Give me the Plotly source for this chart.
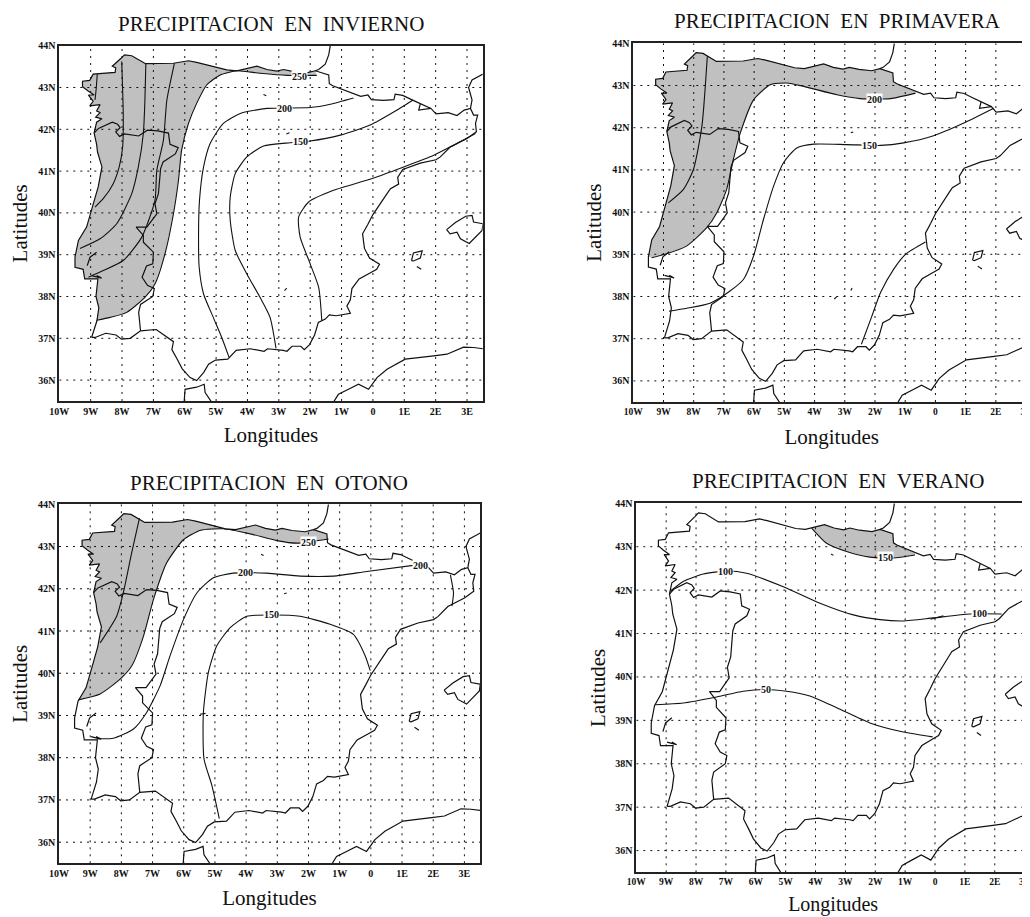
import plotly.graph_objects as go

OX, OY = 8, 8  # page body margin
FW, FH = 1022, 916

LON_TICKS = [-10, -9, -8, -7, -6, -5, -4, -3, -2, -1, 0, 1, 2, 3]
LON_LABELS = ["10W", "9W", "8W", "7W", "6W", "5W", "4W", "3W", "2W", "1W", "0", "1E", "2E", "3E"]
LAT_TICKS = [36, 37, 38, 39, 40, 41, 42, 43, 44]
LAT_LABELS = ["36N", "37N", "38N", "39N", "40N", "41N", "42N", "43N", "44N"]

ATLANTIC = [(-8.97, 37.02), (-8.80, 37.42), (-8.74, 37.73), (-8.83, 38.00), (-8.77, 38.42), (-9.19, 38.42),
            (-9.24, 38.65), (-9.50, 38.70), (-9.50, 38.94), (-9.39, 39.34), (-9.13, 39.66), (-8.97, 40.06),
            (-8.76, 40.62), (-8.64, 41.10), (-8.78, 41.45), (-8.81, 41.64), (-8.89, 41.91), (-8.81, 42.17),
            (-8.64, 42.25), (-8.84, 42.29), (-8.70, 42.40), (-8.81, 42.44), (-8.70, 42.59), (-9.03, 42.56),
            (-8.92, 42.67), (-9.07, 42.82), (-8.89, 42.82), (-9.09, 42.92), (-9.26, 43.02)]
NORTH_COAST = [(-9.26, 43.15), (-9.03, 43.17), (-8.92, 43.32), (-8.22, 43.36), (-8.20, 43.47), (-8.31, 43.51),
               (-8.03, 43.70), (-7.92, 43.78), (-7.69, 43.76), (-7.36, 43.63), (-7.25, 43.57), (-6.36, 43.58),
               (-5.88, 43.64), (-5.62, 43.60), (-5.09, 43.51), (-4.66, 43.42), (-4.34, 43.40), (-4.02, 43.46),
               (-3.70, 43.51), (-3.38, 43.43), (-3.06, 43.39), (-2.85, 43.43), (-2.53, 43.38), (-2.11, 43.35),
               (-1.84, 43.40)]
PYRENEES = [(-1.41, 43.30), (-1.39, 43.09), (-1.28, 43.04), (-0.67, 42.86), (-0.39, 42.79), (-0.16, 42.82),
            (-0.05, 42.71), (0.34, 42.69), (0.67, 42.71), (0.71, 42.84), (0.95, 42.81), (1.23, 42.71),
            (1.51, 42.61), (1.85, 42.50), (2.01, 42.37), (2.40, 42.40), (2.68, 42.33), (2.91, 42.46),
            (3.11, 42.50), (3.21, 42.34), (3.34, 42.34), (3.27, 42.14), (3.30, 41.94)]
EAST_SOUTH = [(3.00, 41.78), (2.47, 41.58), (2.15, 41.34), (2.01, 41.27), (1.51, 41.19), (0.95, 41.04), (0.79, 40.85),
              (0.82, 40.69), (0.56, 40.58), (0.45, 40.46), (0.17, 40.15), (0.00, 39.96), (-0.16, 39.73), (-0.33, 39.50),
              (-0.27, 39.15), (-0.11, 38.92), (0.21, 38.77), (0.12, 38.65), (-0.05, 38.58), (-0.44, 38.42), (-0.67, 38.19),
              (-0.72, 37.92), (-0.83, 37.77), (-0.72, 37.60), (-1.17, 37.54), (-1.39, 37.56), (-1.52, 37.46), (-1.74, 37.38),
              (-1.86, 37.08), (-2.02, 36.85), (-2.19, 36.73), (-2.30, 36.81), (-2.58, 36.81), (-2.74, 36.69), (-2.86, 36.71),
              (-3.36, 36.75), (-3.47, 36.69), (-3.91, 36.75), (-4.36, 36.71), (-4.63, 36.50), (-5.02, 36.48), (-5.24, 36.38),
              (-5.40, 36.18), (-5.62, 35.99), (-5.83, 36.06), (-6.08, 36.27), (-6.24, 36.50), (-6.41, 36.73), (-6.36, 36.92),
              (-6.58, 37.04), (-6.91, 37.21), (-7.41, 37.18), (-7.74, 37.00), (-8.02, 36.98), (-8.19, 37.08), (-8.52, 37.12),
              (-8.86, 37.02), (-8.97, 37.02)]
PORTUGAL_BORDER = [(-8.89, 41.91), (-8.75, 42.02), (-8.31, 42.17), (-8.14, 42.12), (-8.06, 42.04), (-8.20, 41.94),
                   (-8.08, 41.83), (-7.92, 41.89), (-7.47, 41.84), (-7.19, 41.98), (-6.86, 41.96), (-6.52, 41.91),
                   (-6.47, 41.64), (-6.21, 41.56), (-6.30, 41.41), (-6.69, 41.22), (-6.77, 41.06), (-6.84, 40.46),
                   (-6.95, 40.22), (-6.89, 39.98), (-7.21, 39.66), (-7.55, 39.66), (-7.32, 39.46), (-7.32, 39.30),
                   (-7.00, 39.06), (-7.02, 38.78), (-7.22, 38.73), (-7.36, 38.46), (-7.19, 38.27), (-6.97, 38.19),
                   (-7.02, 38.00), (-7.41, 37.81), (-7.47, 37.62), (-7.41, 37.18)]
ANDORRA = [(1.51, 42.61), (1.46, 42.46), (1.85, 42.50)]
FRANCE_ATL = [(-1.36, 44.0), (-1.41, 43.78), (-1.52, 43.56), (-1.73, 43.43), (-1.84, 43.40)]
FRANCE_MED = [(3.51, 43.32), (3.16, 43.18), (3.05, 43.00), (3.16, 42.70), (3.11, 42.50)]
TAGUS = [(-9.11, 38.74), (-9.02, 38.94), (-8.81, 39.06)]
SADO = [(-8.97, 38.50), (-8.65, 38.44), (-8.81, 38.50)]
TANGIER = [(-6.02, 35.47), (-5.99, 35.78), (-5.62, 35.83), (-5.38, 35.90), (-5.35, 35.70), (-5.14, 35.47)]
ALGERIA = [(-1.26, 35.47), (-1.10, 35.66), (-0.78, 35.78), (-0.46, 35.90), (-0.14, 35.78), (0.13, 36.06),
           (0.45, 36.26), (1.03, 36.50), (1.94, 36.58), (2.36, 36.62), (2.89, 36.79), (3.21, 36.78), (3.51, 36.75)]
MALLORCA = [(2.35, 39.60), (2.63, 39.77), (2.96, 39.92), (3.16, 39.94), (3.21, 39.78), (3.51, 39.74), (3.48, 39.58),
            (3.07, 39.27), (2.79, 39.38), (2.68, 39.54), (2.46, 39.50), (2.35, 39.60)]
IBIZA = [(1.23, 38.86), (1.29, 39.04), (1.57, 39.09), (1.51, 38.92), (1.29, 38.85), (1.23, 38.86)]
FORMENTERA = [(1.40, 38.72), (1.54, 38.65)]

# Invierno
INV_250 = [(-8.81, 37.43), (-8.38, 37.50), (-7.85, 37.62), (-7.27, 37.98), (-6.95, 38.30), (-6.63, 39.02),
           (-6.36, 39.98), (-6.20, 40.78), (-6.10, 41.50), (-5.88, 42.14), (-5.62, 42.62), (-5.30, 43.06),
           (-4.87, 43.30), (-4.34, 43.40), (-3.60, 43.34), (-2.74, 43.29), (-1.79, 43.29)]
INV_A = [(-8.79, 43.32), (-8.82, 43.00), (-8.86, 42.70)]
INV_B = [(-8.01, 43.62), (-7.96, 42.30), (-7.98, 41.58), (-8.09, 41.10), (-8.28, 40.70), (-8.60, 40.34), (-8.86, 40.14)]
INV_C = [(-7.24, 43.58), (-7.27, 42.70), (-7.32, 41.90), (-7.48, 41.10), (-7.69, 40.46), (-8.17, 39.74), (-8.70, 39.38), (-9.34, 39.15)]
INV_D = [(-6.33, 43.58), (-6.57, 42.70), (-6.68, 41.74), (-6.89, 41.02), (-6.95, 40.30), (-7.37, 39.42), (-7.96, 38.86), (-8.60, 38.62), (-9.07, 38.46)]
INV_200 = [(-0.62, 42.75), (-1.36, 42.60), (-2.00, 42.52), (-3.38, 42.50), (-4.23, 42.38), (-4.77, 42.14), (-5.19, 41.66),
           (-5.40, 41.10), (-5.53, 40.30), (-5.56, 39.50), (-5.54, 38.70), (-5.40, 38.06), (-5.09, 37.50), (-4.82, 37.02), (-4.59, 36.55)]
INV_150 = [(1.28, 42.70), (0.77, 42.46), (-0.09, 42.10), (-1.04, 41.86), (-2.00, 41.72), (-2.64, 41.68), (-3.49, 41.60),
           (-4.02, 41.34), (-4.39, 40.94), (-4.55, 40.38), (-4.55, 39.82), (-4.39, 39.10), (-4.02, 38.54), (-3.60, 37.98),
           (-3.28, 37.50), (-3.09, 36.76)]
INV_100 = [(3.27, 41.90), (2.47, 41.58), (1.94, 41.38), (0.98, 41.10), (0, 40.83), (-1.26, 40.54), (-2.05, 40.26),
           (-2.37, 39.90), (-2.32, 39.42), (-2.00, 38.78), (-1.73, 38.22), (-1.63, 37.42)]
INV_SPECKS = [[(-3.49, 42.83), (-3.40, 42.80)], [(-2.76, 41.89), (-2.66, 41.92)], [(-2.82, 38.14), (-2.75, 38.20)]]
INV_LABELS = [("250", -2.34, 43.27), ("200", -2.83, 42.50), ("150", -2.32, 41.71)]

# Primavera
PRI_200 = [(-9.39, 38.92), (-8.95, 39.00), (-8.23, 39.20), (-7.57, 39.63), (-7.24, 39.98), (-6.91, 40.54), (-6.69, 41.24),
           (-6.46, 41.87), (-6.02, 42.66), (-5.47, 43.02), (-4.92, 43.06), (-4.36, 42.98), (-3.26, 42.78), (-2.49, 42.69),
           (-1.49, 42.69), (-0.66, 42.82)]
PRI_A = [(-7.55, 43.69), (-7.73, 42.03), (-8.01, 41.01), (-8.34, 40.54), (-8.84, 40.22)]
PRI_150 = [(1.93, 42.46), (0.94, 42.11), (-0.06, 41.81), (-1.05, 41.64), (-1.82, 41.58), (-2.93, 41.60), (-4.03, 41.61),
           (-4.59, 41.52), (-5.03, 41.17), (-5.36, 40.61), (-5.69, 39.83), (-6.02, 38.96), (-6.35, 38.41), (-6.80, 38.13),
           (-7.46, 37.84), (-8.23, 37.72), (-8.82, 37.65)]
PRI_100 = [(-2.45, 36.87), (-2.10, 37.54), (-1.82, 38.09), (-1.38, 38.65), (-0.99, 39.00), (-0.33, 39.29)]
PRI_SPECKS = [[(-2.80, 41.88), (-2.72, 41.90)], [(-3.35, 37.94), (-3.27, 37.99)], [(-2.80, 38.14), (-2.76, 38.20)]]
PRI_LABELS = [("200", -2.02, 42.66), ("150", -2.18, 41.57)]

# Otono
OTO_250 = [(-9.38, 39.37), (-8.68, 39.51), (-8.04, 39.86), (-7.67, 40.17), (-7.29, 40.88), (-6.97, 41.75), (-6.55, 42.61),
           (-6.01, 43.16), (-5.48, 43.38), (-4.73, 43.42), (-3.87, 43.30), (-3.02, 43.14), (-2.37, 43.08), (-1.36, 43.18)]
OTO_A = [(-7.42, 43.67), (-7.67, 42.85), (-7.94, 41.90), (-8.15, 41.35), (-8.68, 40.72)]
OTO_200 = [(1.42, 42.56), (-0.13, 42.41), (-1.20, 42.30), (-2.27, 42.30), (-3.34, 42.37), (-4.41, 42.37), (-5.05, 42.26),
           (-5.58, 41.90), (-6.01, 41.27), (-6.44, 40.41), (-6.76, 39.70), (-7.19, 39.07), (-7.61, 38.68), (-8.26, 38.46), (-8.79, 38.45)]
OTO_200B = [(2.55, 42.33), (2.65, 41.90), (2.60, 41.59)]
OTO_150 = [(-0.02, 40.06), (-0.18, 40.41), (-0.56, 40.92), (-1.31, 41.16), (-2.27, 41.35), (-3.18, 41.38), (-3.98, 41.35),
           (-4.51, 41.08), (-4.94, 40.65), (-5.21, 40.02), (-5.37, 39.07), (-5.35, 37.97), (-5.10, 37.35), (-4.86, 36.56)]
OTO_SPECKS = [[(-3.52, 42.82), (-3.44, 42.79)], [(-2.78, 41.88), (-2.70, 41.90)], [(-5.48, 39.03), (-5.30, 39.05)]]
OTO_LABELS = [("250", -2.00, 43.10), ("200", 1.60, 42.55), ("200", -4.01, 42.39), ("150", -3.18, 41.38)]

# Verano
VER_150 = [(-4.13, 43.43), (-3.63, 43.08), (-2.96, 42.89), (-2.18, 42.76), (-1.40, 42.74), (-0.67, 42.81)]
VER_100 = [(-8.87, 41.97), (-8.43, 42.20), (-7.76, 42.37), (-6.98, 42.44), (-6.31, 42.39), (-5.08, 42.08), (-3.85, 41.70),
           (-2.73, 41.43), (-1.84, 41.32), (-1.06, 41.29), (-0.06, 41.36), (1.17, 41.45), (2.23, 41.45)]
VER_50 = [(-9.37, 39.36), (-8.43, 39.40), (-7.31, 39.54), (-6.42, 39.67), (-5.69, 39.71), (-4.97, 39.67), (-4.19, 39.56),
          (-3.29, 39.29), (-2.18, 38.94), (-1.06, 38.73), (-0.08, 38.62)]
VER_SPECKS = [[(-3.48, 42.83), (-3.40, 42.80)], [(-0.15, 41.33), (0.28, 41.41)]]
VER_LABELS = [("150", -1.67, 42.75), ("100", -7.00, 42.44), ("100", 1.48, 41.46), ("50", -5.67, 39.71)]

RING = ATLANTIC + NORTH_COAST + PYRENEES + EAST_SOUTH
COAST_LINES = [RING, PORTUGAL_BORDER, ANDORRA, FRANCE_ATL, FRANCE_MED, TAGUS, SADO,
               TANGIER, ALGERIA, MALLORCA, IBIZA, FORMENTERA]

PANELS = [
    dict(title="PRECIPITACION\u00a0\u00a0EN\u00a0\u00a0INVIERNO", shade=INV_250,
         contours=[INV_250, INV_A, INV_B, INV_C, INV_D, INV_200, INV_150, INV_100] + INV_SPECKS, labels=INV_LABELS,
         box=(59.3, 482.7, 45.7, 401.0), lonmax=3.5, title_xy=(271, 24), xoff=12, yoff=12, xtick=10, xtitle=21),
    dict(title="PRECIPITACION\u00a0\u00a0EN\u00a0\u00a0PRIMAVERA", shade=PRI_200,
         contours=[PRI_200, PRI_A, PRI_150, PRI_100] + PRI_SPECKS, labels=PRI_LABELS,
         box=(633.3, 1030, 43.3, 402.0), lonmax=3.13, title_xy=(837, 21), xoff=13, yoff=5, xtick=9.5, xtitle=21),
    dict(title="PRECIPITACION\u00a0\u00a0EN\u00a0\u00a0OTONO", shade=OTO_250,
         contours=[OTO_250, OTO_A, OTO_200, OTO_200B, OTO_150] + OTO_SPECKS, labels=OTO_LABELS,
         box=(59.0, 480.0, 504.3, 863.3), lonmax=3.5, title_xy=(269, 483), xoff=12, yoff=12, xtick=10, xtitle=21),
    dict(title="PRECIPITACION\u00a0\u00a0EN\u00a0\u00a0VERANO", shade=VER_150,
         contours=[VER_150, VER_100, VER_50] + VER_SPECKS, labels=VER_LABELS,
         box=(636.3, 1030, 503.3, 872.3), lonmax=3.18, title_xy=(838, 481), xoff=11, yoff=4, xtick=9.5, xtitle=20),
]


def xf(px):
    return (px - OX) / FW


def yf(py):
    return 1 - (py - OY) / FH


def nearest(pt):
    return min(range(len(RING)), key=lambda i: (RING[i][0] - pt[0]) ** 2 + (RING[i][1] - pt[1]) ** 2)


def shade_polygon(contour):
    i0, i1 = nearest(contour[0]), nearest(contour[-1])
    return list(contour) + RING[i0:i1 + 1][::-1]


def polyline(lines):
    xs, ys = [], []
    for ln in lines:
        xs += [p[0] for p in ln] + [None]
        ys += [p[1] for p in ln] + [None]
    return xs, ys


fig = go.Figure()
annotations = []
SERIF = "Liberation Serif"
for n, p in enumerate(PANELS, start=1):
    xa, ya = f"x{n}" if n > 1 else "x", f"y{n}" if n > 1 else "y"
    l, r, t, b = p["box"]
    poly = shade_polygon(p["shade"])
    fig.add_trace(go.Scatter(x=[q[0] for q in poly], y=[q[1] for q in poly], xaxis=xa, yaxis=ya, mode="lines",
                             fill="toself", fillcolor="#c0c0c0", line=dict(width=0), hoverinfo="skip", showlegend=False))
    gx = polyline([[(v, 35.5), (v, 44)] for v in LON_TICKS[1:]])
    gy = polyline([[(-10, v), (p["lonmax"], v)] for v in LAT_TICKS[:-1]])
    fig.add_trace(go.Scatter(x=gx[0] + gy[0], y=gx[1] + gy[1], xaxis=xa, yaxis=ya, mode="lines",
                             line=dict(color="#111111", width=1, dash="2px,5px"), hoverinfo="skip", showlegend=False))
    cx, cy = polyline(p["contours"])
    fig.add_trace(go.Scatter(x=cx, y=cy, xaxis=xa, yaxis=ya, mode="lines",
                             line=dict(color="#111111", width=1.1, shape="spline", smoothing=0.6), showlegend=False))
    bx, by = polyline(COAST_LINES)
    fig.add_trace(go.Scatter(x=bx, y=by, xaxis=xa, yaxis=ya, mode="lines",
                             line=dict(color="#111111", width=1.2), showlegend=False))
    right_open = p["lonmax"] < 3.5
    fig.update_layout(**{
        ("xaxis" if n == 1 else f"xaxis{n}"): dict(
            domain=[xf(l), min(1, xf(r))], range=[-10, p["lonmax"]], tickmode="array", tickvals=LON_TICKS,
            ticktext=LON_LABELS, showgrid=False, zeroline=False, showline=True, linecolor="#222222", linewidth=1.5,
            mirror=True, ticks="", anchor=ya, automargin=False, ticklabeloverflow="allow",
            tickfont=dict(family=SERIF, size=p["xtick"], color="#111111", weight="bold"),
            title=dict(text="Longitudes", font=dict(family=SERIF, size=p["xtitle"], color="#111111"), standoff=p["xoff"])),
        ("yaxis" if n == 1 else f"yaxis{n}"): dict(
            domain=[yf(b), yf(t)], range=[35.5, 44], tickmode="array", tickvals=LAT_TICKS,
            ticktext=LAT_LABELS, showgrid=False, zeroline=False, showline=True, linecolor="#222222", linewidth=1.5,
            mirror=not right_open, ticks="", anchor=xa, automargin=False, ticklabeloverflow="allow",
            tickfont=dict(family=SERIF, size=10, color="#111111", weight="bold"),
            title=dict(text="Latitudes", font=dict(family=SERIF, size=21, color="#111111"), standoff=p["yoff"])),
    })
    annotations.append(dict(text=p["title"], xref="paper", yref="paper", x=xf(p["title_xy"][0]), y=yf(p["title_xy"][1]),
                            xanchor="center", yanchor="middle", showarrow=False,
                            font=dict(family=SERIF, size=21, color="#111111")))
    for txt, lo, la in p["labels"]:
        annotations.append(dict(text=txt, xref=xa, yref=ya, x=lo, y=la, showarrow=False, bgcolor="white", borderpad=0,
                                font=dict(family=SERIF, size=10, color="#111111", weight="bold")))

fig.update_layout(width=FW, height=FH, margin=dict(l=0, r=0, t=0, b=0), paper_bgcolor="white", plot_bgcolor="white",
                  showlegend=False, annotations=annotations)
fig.write_html("out.html")
